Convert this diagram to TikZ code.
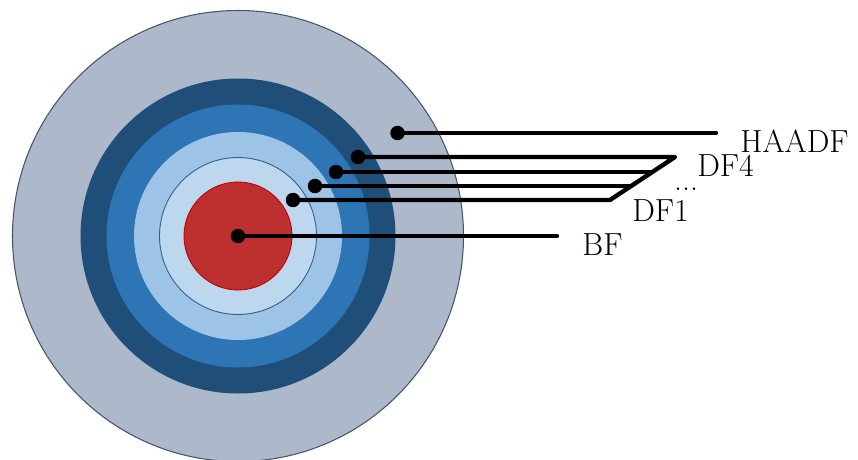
\documentclass[tikz,border=0pt]{standalone}
\usepackage{xcolor}
\usepackage{tikz}
\usetikzlibrary{positioning}

\definecolor{ringgray}{HTML}{ADB9CA}
\definecolor{ringedge}{HTML}{44546A}
\definecolor{ringdark}{HTML}{1F4E79}
\definecolor{ringmid}{HTML}{2E75B6}
\definecolor{ringlight}{HTML}{9DC3E6}
\definecolor{ringpale}{HTML}{BDD7EE}
\definecolor{paleedge}{HTML}{2F5F8F}
\definecolor{corered}{HTML}{BE3030}
\definecolor{coreedge}{HTML}{C00000}

\begin{document}
\begin{tikzpicture}[
      dot/.style={circle, fill=black, inner sep=0pt, minimum size=0.29cm},
      wire/.style={line width=2.5pt, line cap=round, line join=round},
      lbl/.style={inner sep=0pt, font=\fontsize{18.2}{22}\selectfont}]
    \useasboundingbox (-4.76,-4.46) rectangle (12.4,4.72);
    % detector rings
    \filldraw[fill=ringgray, draw=ringedge, line width=0.6pt] (0,0) circle (4.51);
    \fill[ringdark] (0,0) circle (3.15);
    \fill[ringmid] (0,0) circle (2.63);
    \fill[ringlight] (0,0) circle (2.08);
    \filldraw[fill=ringpale, draw=paleedge, line width=0.5pt] (0,0) circle (1.57);
    \filldraw[fill=corered, draw=coreedge, line width=0.5pt] (0,0) circle (1.08);
    % pick-up points
    \node[dot] (bf) at (0,0) {};
    \node[dot] (df1) at (1.10,0.72) {};
    \node[dot] (df2) at (1.54,1.00) {};
    \node[dot] (df3) at (1.96,1.28) {};
    \node[dot] (df4) at (2.40,1.58) {};
    \node[dot] (haadf) at (3.19,2.06) {};
    \coordinate (bfend) at (6.38,0);
    \coordinate (df1end) at (7.44,0.72);
    \coordinate (df2end) at (7.86,1.00);
    \coordinate (df3end) at (8.28,1.28);
    \coordinate (df4end) at (8.74,1.58);
    \coordinate (haadfend) at (9.56,2.06);
    % wires
    \draw[wire] (bf.center) -- (bfend);
    \draw[wire] (df1.center) -- (df1end) -- (df4end) -- (df4.center);
    \draw[wire] (df2.center) -- (df2end);
    \draw[wire] (df3.center) -- (df3end);
    \draw[wire] (haadf.center) -- (haadfend);
    % labels
    \node[lbl, anchor=west] (bflbl) at (6.88,-0.17) {BF};
    \node[lbl, anchor=west] (df1lbl) at (7.88,0.50) {DF1};
    \node[lbl, anchor=base] (dotslbl) at (8.96,0.90) {...};
    \node[lbl, anchor=west] (df4lbl) at (9.18,1.40) {DF4};
    \node[lbl, anchor=west] (haadflbl) at (10.04,1.90) {HAADF};
  \end{tikzpicture}
\end{document}
